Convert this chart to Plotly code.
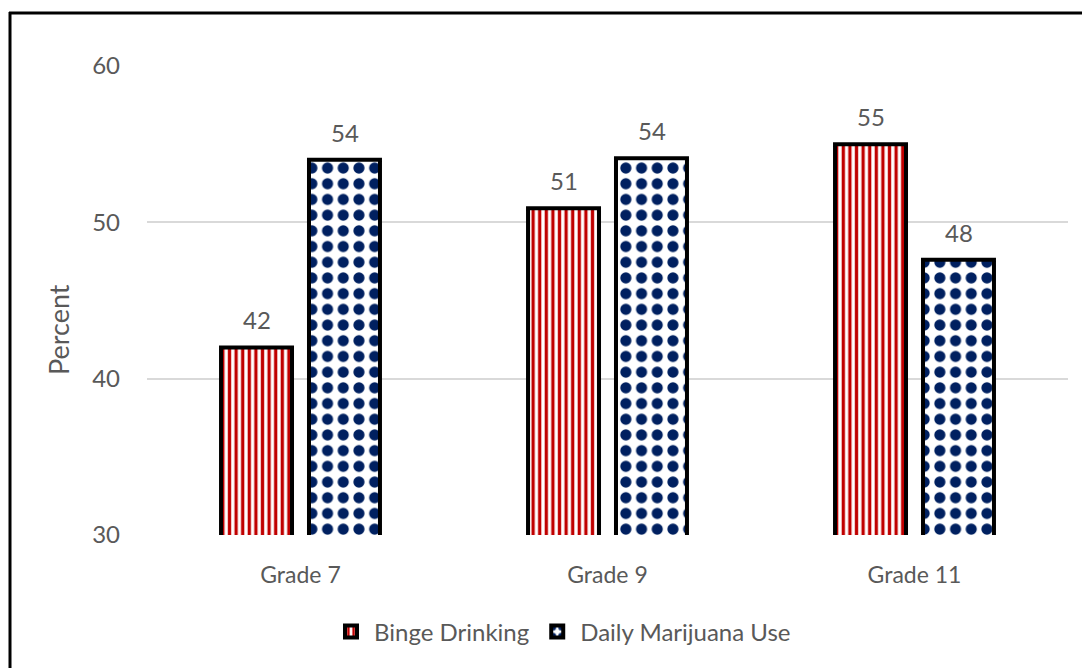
import plotly.graph_objects as go

categories = ["Grade 7", "Grade 9", "Grade 11"]
binge = [42.0, 50.9, 55.0]
marijuana = [54.0, 54.1, 47.6]
binge_labels = ["42", "51", "55"]
marijuana_labels = ["54", "54", "48"]
y_ticks = [30, 40, 50, 60]

FONT = "Lato, Calibri, Carlito, sans-serif"
GRAY = "#595959"

fig = go.Figure()
fig.add_trace(go.Bar(
    name="Binge Drinking", x=categories, y=binge, base=0,
    marker=dict(color="white", line=dict(color="black", width=4),
                pattern=dict(shape="|", fgcolor="#C00000", bgcolor="white",
                             fgopacity=1, size=6.6, solidity=0.5, fillmode="replace")),
    hoverinfo="skip",
))
fig.add_trace(go.Bar(
    name="Daily Marijuana Use", x=categories, y=marijuana, base=0,
    marker=dict(color="white", line=dict(color="black", width=4),
                pattern=dict(shape=".", fgcolor="#002060", bgcolor="white",
                             fgopacity=1, size=15.7, solidity=0.4, fillmode="replace")),
    hoverinfo="skip",
))

annotations = []
for cat, v, t in zip(categories, binge, binge_labels):
    annotations.append(dict(x=cat, y=v, text=t, xref="x", yref="y", xshift=-44,
                            yshift=11, yanchor="bottom", showarrow=False,
                            font=dict(family=FONT, size=24, color=GRAY)))
for cat, v, t in zip(categories, marijuana, marijuana_labels):
    annotations.append(dict(x=cat, y=v, text=t, xref="x", yref="y", xshift=44,
                            yshift=11, yanchor="bottom", showarrow=False,
                            font=dict(family=FONT, size=24, color=GRAY)))

# page body has an 8px margin: work in screen coordinates minus 8
OFF = 8
W, H = 1090 - OFF, 668 - OFF
L, R, T, B = 147 - OFF, 22, 66 - OFF, 133
pw, ph = W - L - R, H - T - B

def px(x):
    return (x - OFF - L) / pw

def py(y):
    return (H - B - (y - OFF)) / ph

annotations.append(dict(text="Percent", xref="paper", yref="paper", x=px(58), y=py(330),
                        xanchor="center", yanchor="middle", textangle=-90, showarrow=False,
                        font=dict(family=FONT, size=27, color=GRAY)))

shapes = [
    dict(type="line", xref="paper", yref="paper", x0=px(9), x1=px(1100),
         y0=py(13), y1=py(13), line=dict(color="black", width=3)),
    dict(type="line", xref="paper", yref="paper", x0=px(10), x1=px(10),
         y0=py(12), y1=py(680), line=dict(color="black", width=3)),
]

fig.update_layout(
    width=W, height=H,
    margin=dict(l=L, r=R, t=T, b=B),
    paper_bgcolor="white", plot_bgcolor="white",
    barmode="group", bargap=0.427, bargroupgap=0.193,
    font=dict(family=FONT, size=24, color=GRAY),
    showlegend=True,
    legend=dict(orientation="h", x=px(562), xanchor="center", y=py(632),
                yanchor="middle", font=dict(family=FONT, size=24, color=GRAY),
                itemwidth=36),
    annotations=annotations,
    shapes=shapes,
    xaxis=dict(showgrid=False, showline=False, ticks="", ticklabelstandoff=24,
               tickfont=dict(family=FONT, size=23, color=GRAY)),
    yaxis=dict(range=[30, 60], tickvals=y_ticks, showgrid=True,
               gridcolor="#D9D9D9", gridwidth=1.5, zeroline=False,
               showline=False, ticks="", ticklabelstandoff=26,
               tickfont=dict(family=FONT, size=24, color=GRAY)),
)

fig.write_html("out.html")
